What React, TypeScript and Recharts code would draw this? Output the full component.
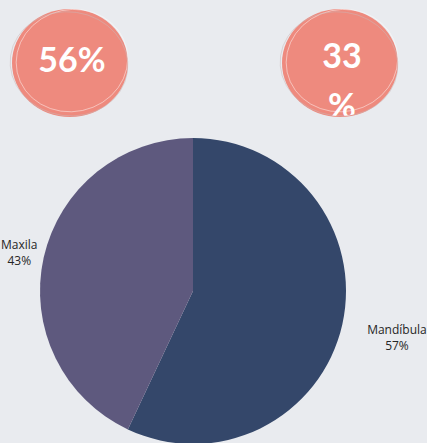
import { Cell, Pie, PieChart } from 'recharts'

const regioes = ['Mandíbula', 'Maxila']
const percentuais = [57, 43]
const cores = ['#34476a', '#5e597e']

const destaques = ['56%', '33 %']

const dados = regioes.map((nome, i) => ({ nome, valor: percentuais[i] }))

const RAD = Math.PI / 180

const renderLabel = (props: any) => {
  const { cx, cy, midAngle, outerRadius, index, payload } = props
  const r = outerRadius + (index === 0 ? 56 : 25)
  const x = cx + r * Math.cos(-midAngle * RAD)
  const y = cy + r * Math.sin(-midAngle * RAD)
  return (
    <text x={x} y={y} textAnchor='middle' fill='#262626' fontSize={12} fontFamily='Open Sans, sans-serif'>
      <tspan x={x} dy={-3}>{payload.nome}</tspan>
      <tspan x={x} dy={16}>{payload.valor}%</tspan>
    </text>
  )
}

const Bolha = ({ cx, texto, id }: { cx: number, texto: string, id: string }) => {
  const linhas = texto.split(' ')
  return (
    <g>
      <defs>
        <clipPath id={id}>
          <ellipse cx={cx} cy={63} rx={58} ry={53} />
        </clipPath>
      </defs>
      <ellipse cx={cx} cy={63} rx={58} ry={54} fill='#ee8a7e' />
      <ellipse cx={cx + 2} cy={61} rx={56} ry={51} fill='none' stroke='#ffffff' strokeOpacity={0.55} strokeWidth={0.8} transform={`rotate(-12 ${cx} 61)`} />
      <ellipse cx={cx - 1} cy={64} rx={59} ry={52} fill='none' stroke='#c9b7b7' strokeOpacity={0.6} strokeWidth={0.8} transform={`rotate(8 ${cx} 64)`} />
      <g clipPath={`url(#${id})`}>
        {linhas.map((l, i) => (
          <text key={i} x={cx + 2} y={linhas.length > 1 ? 68 + i * 50 : 72} textAnchor='middle' fill='#fff'
            fontSize={34} fontWeight={700} fontFamily='Lato, sans-serif'>{l}</text>
        ))}
      </g>
    </g>
  )
}

export default function App() {
  return (
    <div style={{ position: 'fixed', left: 0, top: 0, width: 427, height: 443, background: '#e9ebef', overflow: 'hidden' }}>
      <svg width={427} height={130} style={{ position: 'absolute', left: 0, top: 0 }}>
        <Bolha cx={70} texto={destaques[0]} id='b1' />
        <Bolha cx={340} texto={destaques[1]} id='b2' />
      </svg>
      <div style={{ position: 'absolute', left: 0, top: 0 }}>
        <PieChart width={427} height={443} margin={{ top: 0, right: 0, bottom: 0, left: 0 }}>
          <Pie data={dados} dataKey='valor' nameKey='nome' cx={193} cy={291} outerRadius={153}
            startAngle={90} endAngle={-270} stroke='none' label={renderLabel} labelLine={false}
            isAnimationActive={false}>
            {dados.map((_, i) => <Cell key={i} fill={cores[i]} />)}
          </Pie>
        </PieChart>
      </div>
    </div>
  )
}
